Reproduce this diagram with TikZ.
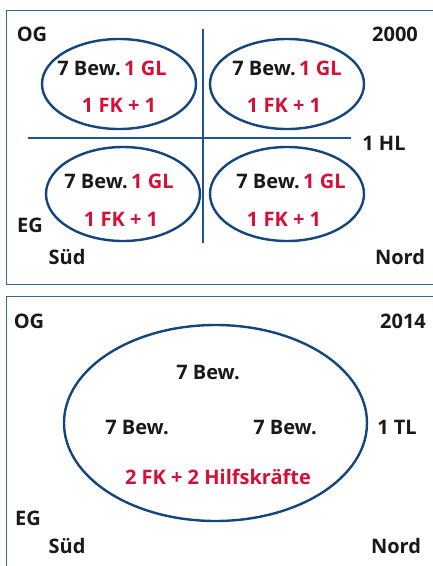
\documentclass[tikz,border=0pt]{standalone}
\usepackage{fontspec}
\setmainfont{Open Sans}
\definecolor{framecol}{RGB}{45,105,155}
\definecolor{ringcol}{RGB}{20,70,125}
\definecolor{linecol}{RGB}{30,85,140}
\definecolor{txtred}{RGB}{215,15,55}
\definecolor{txtdark}{RGB}{25,25,25}
\begin{document}
\begin{tikzpicture}[x=1pt,y=-1pt,
  lbl/.style={font=\bfseries\fontsize{20}{22}\selectfont, text=txtdark, inner sep=0pt},
  redlbl/.style={lbl, text=txtred},
  ring/.style={draw=ringcol, line width=2.4pt},
  panel/.style={draw=framecol, line width=1pt},
  divider/.style={draw=linecol, line width=1.6pt}]
\useasboundingbox (0,0) rectangle (433,566);

% ---- panel 2000 ----
\draw[panel] (440,10) -- (6,10) -- (6,284) -- (440,284);
\coordinate (vt) at (203,29);
\coordinate (vb) at (203,243);
\coordinate (hl) at (28,138);
\coordinate (hr) at (351,138);
\draw[divider] (vt) -- (vb);
\draw[divider] (hl) -- (hr);

\draw[ring] (119,84) ellipse [x radius=77, y radius=45];
\draw[ring] (287,84) ellipse [x radius=77, y radius=45];
\draw[ring] (123,194) ellipse [x radius=77, y radius=47];
\draw[ring] (287,194) ellipse [x radius=77, y radius=47];

\node[lbl] (og1) at (32,34) {OG};
\node[lbl] (y1) at (395,34) {2000};
\node[lbl] (hlab) at (384,143) {1 HL};
\node[lbl] (eg1) at (30,225) {EG};
\node[lbl] (sued1) at (67,257) {Süd};
\node[lbl] (nord1) at (400,257) {Nord};

\node[lbl] (a1) at (112,68) {7 Bew.\,\textcolor{txtred}{1 GL}};
\node[redlbl] (a2) at (119,105) {1 FK + 1};
\node[lbl] (b1) at (287,68) {7 Bew.\,\textcolor{txtred}{1 GL}};
\node[redlbl] (b2) at (284,105) {1 FK + 1};
\node[lbl] (c1) at (119,181) {7 Bew.\,\textcolor{txtred}{1 GL}};
\node[redlbl] (c2) at (121,219) {1 FK + 1};
\node[lbl] (d1) at (291,181) {7 Bew.\,\textcolor{txtred}{1 GL}};
\node[redlbl] (d2) at (284,219) {1 FK + 1};

% ---- panel 2014 ----
\draw[panel] (440,296) -- (6,296) -- (6,580);
\draw[ring] (215.5,423) ellipse [x radius=151.5, y radius=98];

\node[lbl] (og2) at (29,321) {OG};
\node[lbl] (y2) at (403,321) {2014};
\node[lbl] (tl) at (397,427) {1 TL};
\node[lbl] (eg2) at (28,518) {EG};
\node[lbl] (sued2) at (67,546) {Süd};
\node[lbl] (nord2) at (396,546) {Nord};

\node[lbl] (e1) at (208,372) {7 Bew.};
\node[lbl] (e2) at (137,427) {7 Bew.};
\node[lbl] (e3) at (285,427) {7 Bew.};
\node[redlbl] (e4) at (218,477) {2 FK + 2 Hilfskräfte};
\end{tikzpicture}
\end{document}
